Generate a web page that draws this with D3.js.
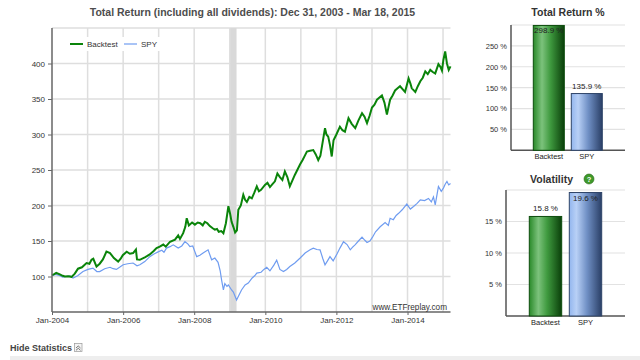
<!DOCTYPE html>
<html><head><meta charset="utf-8">
<script src="https://cdn.jsdelivr.net/npm/d3@7"></script>
<style>body{margin:0;background:#fff}svg{display:block;font-family:"Liberation Sans",Arial,sans-serif}</style>
</head><body><svg id="c" width="640" height="360"></svg>
<script>
// ---- data (decimal years) ----
const backtestT = [2004.00,2004.05,2004.12,2004.22,2004.30,2004.36,2004.45,2004.55,2004.64,2004.73,2004.84,2004.97,2005.05,2005.11,2005.16,2005.25,2005.34,2005.43,2005.53,2005.63,2005.74,2005.86,2005.93,2005.99,2006.10,2006.19,2006.28,2006.36,2006.39,2006.47,2006.61,2006.75,2006.86,2006.94,2007.03,2007.13,2007.20,2007.32,2007.46,2007.55,2007.60,2007.69,2007.75,2007.79,2007.85,2007.94,2008.02,2008.10,2008.17,2008.24,2008.30,2008.37,2008.44,2008.52,2008.58,2008.64,2008.69,2008.76,2008.82,2008.89,2008.96,2009.01,2009.05,2009.10,2009.15,2009.20,2009.24,2009.31,2009.38,2009.43,2009.48,2009.55,2009.62,2009.69,2009.76,2009.82,2009.88,2009.99,2010.06,2010.13,2010.20,2010.27,2010.34,2010.41,2010.48,2010.55,2010.62,2010.69,2010.76,2010.83,2010.90,2010.98,2011.05,2011.12,2011.17,2011.26,2011.35,2011.42,2011.49,2011.55,2011.60,2011.68,2011.72,2011.77,2011.82,2011.87,2011.92,2012.00,2012.10,2012.17,2012.24,2012.34,2012.43,2012.53,2012.62,2012.72,2012.79,2012.86,2012.93,2013.00,2013.07,2013.14,2013.21,2013.28,2013.35,2013.42,2013.47,2013.51,2013.58,2013.65,2013.72,2013.79,2013.86,2013.93,2014.03,2014.08,2014.12,2014.22,2014.29,2014.36,2014.43,2014.50,2014.57,2014.64,2014.71,2014.78,2014.87,2014.93,2014.97,2015.01,2015.06,2015.11,2015.16,2015.21];
const backtestV = [102,103,105,103,101,100,100.5,99.5,104,111,113,119,118,123.5,125,114,118,124,135,133,126,121,125,130,135,132,133,138,124,123.5,127,131,136,140,142,145,142,149,152,158,153,161,170,182,172,176,173,176,175,172,177,175,171,168,166,167,163,164,161,175,199,188,177,170,162,165,194,200,215,208,205,212,210,218,227,220,222,229,232,226,230,234,245,240,236,248,240,227,235,243,250,258,264,271,276,277,278,272,264,270,285,309,300,297,285,269,292,300,311,306,304,323,315,309,320,330,325,316,326,338,342,349,352,355,345,328,340,349,355,362,365,368,364,360,379,372,365,360,368,375,380,389,385,391,388,386,399,395,390,405,417,400,391,396];
const spyT = [2004.00,2004.10,2004.22,2004.30,2004.41,2004.50,2004.59,2004.72,2004.87,2005.01,2005.15,2005.26,2005.34,2005.48,2005.63,2005.72,2005.81,2005.90,2006.00,2006.13,2006.28,2006.39,2006.47,2006.61,2006.75,2006.88,2007.00,2007.09,2007.15,2007.22,2007.32,2007.41,2007.55,2007.65,2007.74,2007.82,2007.88,2007.96,2008.07,2008.16,2008.25,2008.39,2008.49,2008.58,2008.67,2008.73,2008.77,2008.82,2008.86,2008.92,2008.96,2009.05,2009.10,2009.19,2009.26,2009.33,2009.43,2009.52,2009.63,2009.70,2009.76,2009.88,2009.96,2010.04,2010.13,2010.24,2010.32,2010.41,2010.51,2010.60,2010.69,2010.83,2010.98,2011.12,2011.26,2011.35,2011.45,2011.54,2011.62,2011.68,2011.75,2011.82,2011.91,2012.02,2012.10,2012.20,2012.30,2012.39,2012.45,2012.53,2012.62,2012.72,2012.80,2012.86,2012.94,2013.01,2013.10,2013.23,2013.37,2013.46,2013.51,2013.60,2013.68,2013.75,2013.85,2013.98,2014.08,2014.17,2014.27,2014.36,2014.48,2014.59,2014.67,2014.73,2014.78,2014.87,2014.95,2015.01,2015.06,2015.11,2015.16,2015.21];
const spyV = [101,103,101,99,100,101,97.7,101,107,110,111.8,107,107,111,113,111,110,113,116.5,118,119,115,116.5,121,128,132,135,137,134,140,142,144.6,140,143,149,146,142,143,128,130,133,137.6,123.5,126,120,108,95,81,90,86,88,81,78,67,74,81,88,90.7,98,101,104.7,106,110,113,108,116,123,110,107,110,114,119,126,133,137.6,140,138,137.6,125,116.5,122,128,122,132,140,149,145,137.6,141,145,150,155.5,151,148,150,155,163,170,176,172,182,180,186,189,194,202,195,198.6,203,208,207,210,205,212,201,226.7,220,224.5,230,233.8,229,231];
const shadeStart = 2009.01, shadeEnd = 2009.19;
const yTicksMain = [100,150,200,250,300,350,400];
const xLabelYears = [2004,2006,2008,2010,2012,2014];
const gridYears = [2005,2006,2007,2008,2009,2010,2011,2012,2013,2014,2015];
const seriesNames = ["Backtest","SPY"];
const totalReturn = [298.9,135.9];
const volatility = [15.8,19.6];
const trTicks = [50,100,150,200,250,300];
const volTicks = [5,10,15,20];

const svg = d3.select("#c");
const toDate = d => { const y=Math.floor(d), s=Date.UTC(y,0,1), e=Date.UTC(y+1,0,1); return new Date(s+(d-y)*(e-s)); };
const fmtMon = d3.utcFormat("%b-%Y");

// ---- main chart ----
const L=52, R=450.5, T=28, B=312;
const x = d3.scaleUtc().domain([toDate(2004.0), toDate(2015.21)]).range([L, R]);
const y = d3.scaleLinear().domain([50,450]).range([B, T]);
const grid = svg.append("g");
gridYears.forEach(yr => grid.append("line").attr("x1",x(toDate(yr))).attr("x2",x(toDate(yr))).attr("y1",T).attr("y2",B).attr("stroke","#dedede").attr("stroke-width",1.5));
yTicksMain.concat([450]).forEach(v => grid.append("line").attr("x1",L).attr("x2",R).attr("y1",y(v)).attr("y2",y(v)).attr("stroke","#dedede").attr("stroke-width",1.5));
svg.append("rect").attr("x",x(toDate(shadeStart))).attr("width",x(toDate(shadeEnd))-x(toDate(shadeStart))).attr("y",T).attr("height",B-T).attr("fill","#d9d9d9");

const line = d3.line().x(d=>x(toDate(d[0]))).y(d=>y(d[1]));
svg.append("path").datum(d3.zip(spyT,spyV)).attr("d",line).attr("fill","none").attr("stroke","#6f9cf0").attr("stroke-width",1.2);
svg.append("path").datum(d3.zip(backtestT,backtestV)).attr("d",line).attr("fill","none").attr("stroke","#0a840a").attr("stroke-width",2);

const yAx = svg.append("g").attr("transform",`translate(${L},0)`).call(d3.axisLeft(y).tickValues(yTicksMain).tickSize(4).tickPadding(3));
yAx.select(".domain").attr("stroke","#666").attr("stroke-width",1.5).attr("d",`M0,${T}V${B}`);
const xAx = svg.append("g").attr("transform",`translate(0,${B})`).call(d3.axisBottom(x).tickValues(xLabelYears.map(toDate)).tickFormat(fmtMon).tickSize(3).tickPadding(2));
xAx.select(".domain").attr("stroke","#666").attr("stroke-width",1.5).attr("d",`M${L},0H${R}`);
svg.selectAll(".tick line").attr("stroke","#666");
svg.selectAll(".tick text").attr("fill","#333").attr("font-size","8px").attr("font-family","Liberation Sans, Arial");

// legend
const lg = svg.append("g");
lg.append("rect").attr("x",62).attr("y",37).attr("width",98).attr("height",14).attr("fill","#fff");
[["Backtest","#0a840a",70,2],["SPY","#6f9cf0",124,1.2]].forEach(([n,c,lx,w])=>{
  lg.append("line").attr("x1",lx).attr("x2",lx+13).attr("y1",44).attr("y2",44).attr("stroke",c).attr("stroke-width",w);
  lg.append("text").attr("x",lx+17).attr("y",47).attr("font-size","8px").attr("fill","#333").text(n);
});
svg.append("text").attr("x",447).attr("y",309.5).attr("text-anchor","end").attr("font-size","8.2px").attr("fill","#333").text("www.ETFreplay.com");
svg.append("text").attr("x",252.5).attr("y",15.5).attr("text-anchor","middle").attr("font-size","10.5px").attr("font-weight","bold").attr("fill","#4d4d4d").text("Total Return (including all dividends): Dec 31, 2003 - Mar 18, 2015");

// ---- gradients ----
const defs = svg.append("defs");
function grad(id, stops){ const g=defs.append("linearGradient").attr("id",id).attr("x1","0%").attr("x2","100%").attr("y1","0%").attr("y2","0%");
  stops.forEach(([o,c])=>g.append("stop").attr("offset",o).attr("stop-color",c)); }
grad("gG",[["0%","#2a8a2a"],["28%","#7cc27c"],["55%","#3f9a3f"],["100%","#0a3f0a"]]);
grad("gB",[["0%","#93b6ee"],["22%","#b8d0f6"],["55%","#6f8fc4"],["100%","#2a3f66"]]);
const fills=["url(#gG)","url(#gB)"], strokes=["#0d4d0d","#2e4468"];

// ---- bar panels ----
function panel(title, vals, ticks, dom, ax, top, bot, bx0, bx1, pad, labelInside){
  const yy = d3.scaleLinear().domain(dom).range([bot, top]);
  const xb = d3.scaleBand().domain(seriesNames).range([bx0,bx1]).paddingInner(pad).paddingOuter(0);
  const g = svg.append("g");
  ticks.forEach(v=>g.append("line").attr("x1",ax).attr("x2",625).attr("y1",yy(v)).attr("y2",yy(v)).attr("stroke","#e2e2e2").attr("stroke-width",1.2));
  const a = g.append("g").attr("transform",`translate(${ax},0)`).call(d3.axisLeft(yy).tickValues(ticks.filter(t=>t<dom[1])).tickFormat(d=>d+" %").tickSize(0).tickPadding(4));
  a.select(".domain").remove();
  a.selectAll("text").attr("font-size","7.5px").attr("fill","#333");
  g.append("line").attr("x1",ax).attr("x2",ax).attr("y1",top).attr("y2",bot).attr("stroke","#555").attr("stroke-width",1.5);
  g.append("line").attr("x1",ax).attr("x2",625).attr("y1",bot).attr("y2",bot).attr("stroke","#555").attr("stroke-width",1.5);
  seriesNames.forEach((n,i)=>{
    g.append("rect").attr("x",xb(n)).attr("width",xb.bandwidth()).attr("y",yy(vals[i])).attr("height",bot-yy(vals[i])).attr("fill",fills[i]).attr("stroke",strokes[i]).attr("stroke-width",1);
    g.append("text").attr("x",xb(n)+xb.bandwidth()/2).attr("y",bot+9).attr("text-anchor","middle").attr("font-size","7.5px").attr("fill","#222").text(n);
    const inside = labelInside[i];
    g.append("text").attr("x",xb(n)+xb.bandwidth()/2).attr("y",inside? yy(vals[i])+8 : yy(vals[i])-5).attr("text-anchor","middle").attr("font-size","8px").attr("fill","#222").text(vals[i].toFixed(1)+" %");
  });
}
panel("Total Return %", totalReturn, trTicks, [0,300], 511, 25, 150.3, 533.3, 602.3, 0.184, [true,false]);
panel("Volatility", volatility, volTicks, [0,20], 506, 190, 316, 529.3, 601.7, 0.19, [false,true]);
svg.append("text").attr("x",568).attr("y",16).attr("text-anchor","middle").attr("font-size","10.5px").attr("font-weight","bold").attr("fill","#333").text("Total Return %");
svg.append("text").attr("x",530).attr("y",183).attr("font-size","10.5px").attr("font-weight","bold").attr("fill","#333").text("Volatility");
svg.append("circle").attr("cx",589).attr("cy",179).attr("r",5).attr("fill","#3f9a2a").attr("stroke","#2a6a1a").attr("stroke-width",0.6);
svg.append("text").attr("x",589).attr("y",182).attr("text-anchor","middle").attr("font-size","7.5px").attr("font-weight","bold").attr("fill","#fff").text("?");

// ---- footer ----
svg.append("text").attr("x",10).attr("y",351).attr("font-size","9px").attr("font-weight","bold").attr("fill","#444").text("Hide Statistics");
svg.append("rect").attr("x",74.5).attr("y",343.5).attr("width",7.5).attr("height",8).attr("fill","#f4f4f4").attr("stroke","#999").attr("stroke-width",0.7);
svg.append("path").attr("d","M76,348 L78.25,346 L80.5,348 M76,350.3 L78.25,348.3 L80.5,350.3").attr("fill","none").attr("stroke","#555").attr("stroke-width",0.8);
svg.append("rect").attr("x",10).attr("y",356).attr("width",630).attr("height",4).attr("fill","#eeeeee");
</script></body></html>
